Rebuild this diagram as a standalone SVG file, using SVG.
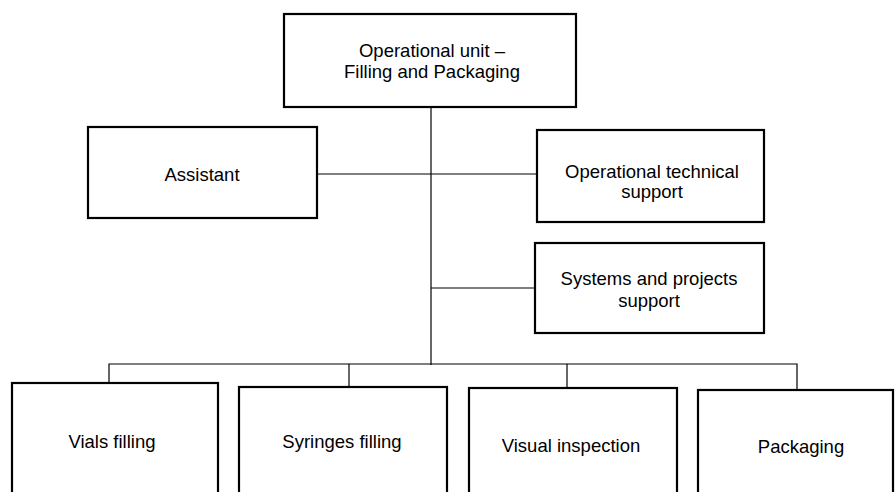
<svg xmlns="http://www.w3.org/2000/svg" width="896" height="492" viewBox="0 0 896 492">
<style>
.box{fill:#fff;stroke:#000;stroke-width:2.2}
.t{font-family:"Liberation Sans",Arial,sans-serif;font-size:18.5px;fill:#000;text-anchor:middle}
.c{stroke:#000;stroke-width:1.2;fill:none}
</style>
<rect width="896" height="492" fill="#fff"/>
<g id="connectors">
<path class="c" d="M431 107V365"/>
<path class="c" d="M317 174H537"/>
<path class="c" d="M431 288H535"/>
<path class="c" d="M109 383V364H797V390"/>
<path class="c" d="M349 364V387"/>
<path class="c" d="M567 364V388"/>
</g>
<g id="top"><rect class="box" x="284" y="14" width="292" height="93"/><text class="t" x="432" y="57">Operational unit –</text><text class="t" x="432" y="78">Filling and Packaging</text></g>
<g id="assistant"><rect class="box" x="88" y="127" width="229" height="91"/><text class="t" x="202" y="181">Assistant</text></g>
<g id="optech"><rect class="box" x="537" y="130" width="227" height="92"/><text class="t" x="652" y="178">Operational technical</text><text class="t" x="652" y="198">support</text></g>
<g id="systems"><rect class="box" x="535" y="243" width="229" height="90"/><text class="t" x="649" y="285">Systems and projects</text><text class="t" x="649" y="307">support</text></g>
<g id="vials"><rect class="box" x="12" y="383" width="206" height="130"/><text class="t" x="112" y="448">Vials filling</text></g>
<g id="syringes"><rect class="box" x="239" y="387" width="208" height="130"/><text class="t" x="342" y="448">Syringes filling</text></g>
<g id="visual"><rect class="box" x="469" y="388" width="208" height="130"/><text class="t" x="571" y="452">Visual inspection</text></g>
<g id="packaging"><rect class="box" x="698" y="390" width="195" height="130"/><text class="t" x="801" y="453">Packaging</text></g>
</svg>
